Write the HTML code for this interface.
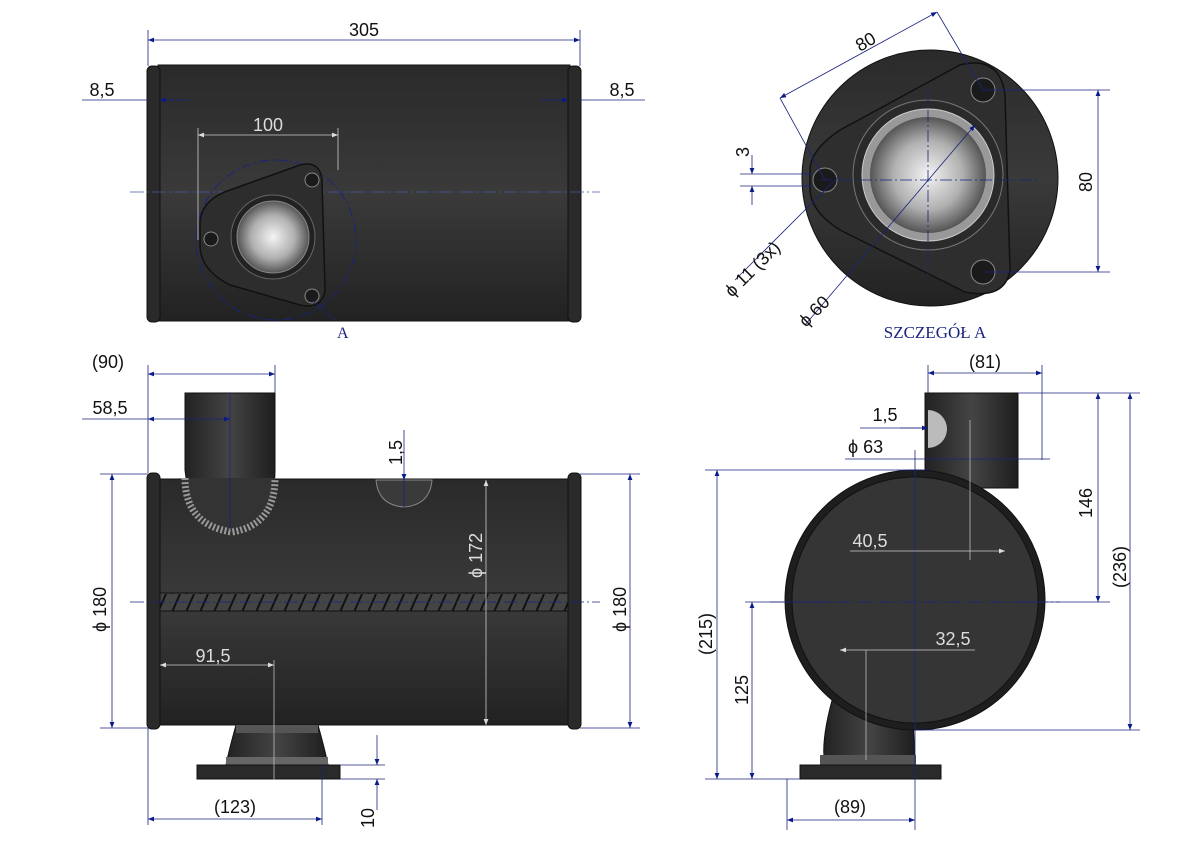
<!DOCTYPE html>
<html><head><meta charset="utf-8"><style>
html,body{margin:0;padding:0;background:#fff}
svg text{font-family:"Liberation Sans",sans-serif}
</style></head><body>
<svg width="1191" height="842" viewBox="0 0 1191 842" xmlns="http://www.w3.org/2000/svg">
<defs>
<linearGradient id="body" x1="0" y1="0" x2="0" y2="1">
<stop offset="0" stop-color="#2a2a2a"/><stop offset="0.5" stop-color="#3a3a3a"/><stop offset="1" stop-color="#222"/></linearGradient>
<radialGradient id="bore" cx="0.5" cy="0.5" r="0.5">
<stop offset="0" stop-color="#f4f4f4"/><stop offset="0.6" stop-color="#b0b0b0"/><stop offset="1" stop-color="#555"/></radialGradient>
<linearGradient id="pipe" x1="0" y1="0" x2="1" y2="0">
<stop offset="0" stop-color="#222"/><stop offset="0.5" stop-color="#444"/><stop offset="1" stop-color="#1e1e1e"/></linearGradient>
<pattern id="weld" width="14" height="18" patternUnits="userSpaceOnUse">
<rect width="14" height="18" fill="#444"/><line x1="12" y1="0" x2="4" y2="18" stroke="#111" stroke-width="2"/></pattern>
<marker id="a" viewBox="0 0 10 10" refX="10" refY="5" markerWidth="12" markerHeight="6" orient="auto-start-reverse" markerUnits="userSpaceOnUse"><path d="M0,1 L10,5 L0,9z" fill="#0a1a8a"/></marker>
<marker id="w" viewBox="0 0 10 10" refX="10" refY="5" markerWidth="12" markerHeight="6" orient="auto-start-reverse" markerUnits="userSpaceOnUse"><path d="M0,1 L10,5 L0,9z" fill="#ddd"/></marker>
</defs>

<!-- VIEW 1 -->
<rect x="158" y="65" width="412" height="256" fill="url(#body)" stroke="#111"/>
<rect x="147" y="66" width="13" height="256" rx="5" fill="#2a2a2a" stroke="#111"/>
<rect x="568" y="66" width="13" height="256" rx="5" fill="#2a2a2a" stroke="#111"/>
<line x1="130" y1="192" x2="600" y2="192" stroke="#4455aa" stroke-width="0.8" stroke-dasharray="14,3,2,3"/>
<circle cx="276" cy="240" r="80" fill="none" stroke="#1a237e" stroke-dasharray="10,3,2,3"/>
<path d="M200,225 Q200,200 230,190 L300,165 Q320,160 322,180 L325,290 Q322,310 300,305 L230,285 Q200,270 200,245z" fill="#2d2d2d" stroke="#111" stroke-width="1.5"/>
<circle cx="273" cy="237" r="42" fill="#222" stroke="#666"/>
<circle cx="273" cy="237" r="36" fill="url(#bore)" stroke="#888"/>
<circle cx="211" cy="239" r="7" fill="#1a1a1a" stroke="#888"/>
<circle cx="312" cy="180" r="7" fill="#1a1a1a" stroke="#888"/>
<circle cx="312" cy="296" r="7" fill="#1a1a1a" stroke="#888"/>
<g stroke="#1a237e" stroke-width="0.8" fill="none">
<line x1="148" y1="30" x2="148" y2="66"/><line x1="580" y1="30" x2="580" y2="66"/>
<line x1="148" y1="40" x2="580" y2="40" marker-start="url(#a)" marker-end="url(#a)"/>
<line x1="82" y1="100" x2="148" y2="100"/><line x1="160" y1="100" x2="190" y2="100" marker-start="url(#a)"/>
<line x1="540" y1="100" x2="568" y2="100" marker-end="url(#a)"/><line x1="580" y1="100" x2="645" y2="100"/>
<line x1="198" y1="135" x2="338" y2="135" stroke="#ccc" marker-start="url(#w)" marker-end="url(#w)"/>
<line x1="198" y1="128" x2="198" y2="240" stroke="#ccc"/><line x1="338" y1="128" x2="338" y2="170" stroke="#ccc"/>
<line x1="312" y1="300" x2="335" y2="320"/>
</g>
<text x="364" y="36" font-size="18" text-anchor="middle" fill="#111">305</text>
<text x="102" y="96" font-size="18" text-anchor="middle" fill="#111">8,5</text>
<text x="622" y="96" font-size="18" text-anchor="middle" fill="#111">8,5</text>
<text x="268" y="131" font-size="18" text-anchor="middle" fill="#ddd">100</text>
<text x="337" y="338" font-size="16" font-family="Liberation Serif" fill="#1a237e" style="font-family:'Liberation Serif',serif">A</text>

<!-- VIEW 2 -->
<circle cx="930" cy="178" r="128" fill="url(#body)" stroke="#111"/>
<path d="M810,170 Q810,150 840,130 L960,65 Q1000,55 1005,95 L1010,270 Q1005,300 965,292 L840,230 Q808,210 810,185z" fill="#2e2e2e" stroke="#111" stroke-width="1.5"/>
<circle cx="928" cy="175" r="75" fill="#2a2a2a" stroke="#777"/>
<circle cx="928" cy="175" r="66" fill="#999" stroke="#ccc"/>
<circle cx="928" cy="175" r="58" fill="url(#bore)"/>
<circle cx="825" cy="180" r="12" fill="#1a1a1a" stroke="#888"/>
<circle cx="983" cy="90" r="12" fill="#1a1a1a" stroke="#888"/>
<circle cx="983" cy="272" r="12" fill="#1a1a1a" stroke="#888"/>
<g stroke="#1a237e" stroke-width="0.8" fill="none">
<line x1="780" y1="98" x2="937" y2="12" marker-start="url(#a)" marker-end="url(#a)"/>
<line x1="937" y1="12" x2="983" y2="90"/><line x1="780" y1="98" x2="825" y2="180"/>
<line x1="983" y1="90" x2="1110" y2="90"/><line x1="983" y1="272" x2="1110" y2="272"/>
<line x1="1098" y1="90" x2="1098" y2="272" marker-start="url(#a)" marker-end="url(#a)"/>
<line x1="740" y1="174" x2="812" y2="174"/><line x1="740" y1="186" x2="812" y2="186"/>
<line x1="752" y1="155" x2="752" y2="174" marker-end="url(#a)"/><line x1="752" y1="205" x2="752" y2="186" marker-end="url(#a)"/>
<line x1="735" y1="280" x2="840" y2="175"/>
<line x1="805" y1="325" x2="975" y2="125" marker-end="url(#a)"/>
<line x1="928" y1="90" x2="928" y2="275" stroke-dasharray="12,3,2,3"/>
<line x1="820" y1="180" x2="1040" y2="180" stroke-dasharray="12,3,2,3"/>
</g>
<text x="860" y="52" font-size="18" fill="#111" transform="rotate(-30 860 52)">80</text>
<text x="1092" y="192" font-size="18" fill="#111" transform="rotate(-90 1092 192)">80</text>
<text x="749" y="157" font-size="18" fill="#111" transform="rotate(-90 749 157)">3</text>
<text x="732" y="298" font-size="18" fill="#111" transform="rotate(-45 732 298)">ϕ 11 (3x)</text>
<text x="806" y="328" font-size="18" fill="#111" transform="rotate(-45 806 328)">ϕ 60</text>
<text x="935" y="338" font-size="17" text-anchor="middle" fill="#1a237e" style="font-family:'Liberation Serif',serif">SZCZEGÓŁ A</text>

<!-- VIEW 3 -->
<path d="M185,393 L275,393 L275,470 Q275,520 232,530 Q190,520 185,470z" fill="url(#pipe)" stroke="#111"/>
<path d="M185,480 Q185,525 232,532 Q275,525 275,480" fill="none" stroke="#888" stroke-width="8" stroke-dasharray="2,2"/>
<rect x="158" y="479" width="412" height="246" fill="url(#body)" stroke="#111"/>
<path d="M185,478 Q185,525 232,532 Q275,525 275,478" fill="#333" stroke="#999" stroke-width="7" stroke-dasharray="2,2"/>
<rect x="147" y="473" width="13" height="256" rx="5" fill="#2a2a2a" stroke="#111"/>
<rect x="568" y="473" width="13" height="256" rx="5" fill="#2a2a2a" stroke="#111"/>
<rect x="160" y="593" width="408" height="18" fill="url(#weld)" stroke="#111"/>
<path d="M376,480 L432,480 Q430,505 404,507 Q378,505 376,480z" fill="#3a3a3a" stroke="#888"/>
<path d="M236,725 L318,725 Q325,750 328,765 L226,765 Q229,750 236,725z" fill="url(#pipe)" stroke="#111"/>
<rect x="236" y="725" width="82" height="8" fill="#555"/>
<rect x="226" y="757" width="102" height="8" fill="#666"/>
<rect x="197" y="765" width="143" height="14" fill="#2a2a2a" stroke="#111"/>
<g stroke="#1a237e" stroke-width="0.8" fill="none">
<line x1="148" y1="365" x2="148" y2="473"/><line x1="275" y1="365" x2="275" y2="393"/>
<line x1="148" y1="374" x2="275" y2="374" marker-start="url(#a)" marker-end="url(#a)"/>
<line x1="82" y1="419" x2="148" y2="419"/><line x1="148" y1="419" x2="230" y2="419" marker-start="url(#a)" marker-end="url(#a)"/>
<line x1="230" y1="393" x2="230" y2="530"/>
<line x1="100" y1="474" x2="148" y2="474"/><line x1="100" y1="728" x2="148" y2="728"/>
<line x1="112" y1="474" x2="112" y2="728" marker-start="url(#a)" marker-end="url(#a)"/>
<line x1="580" y1="474" x2="640" y2="474"/><line x1="580" y1="728" x2="640" y2="728"/>
<line x1="630" y1="474" x2="630" y2="728" marker-start="url(#a)" marker-end="url(#a)"/>
<line x1="404" y1="430" x2="404" y2="480" marker-end="url(#a)"/><line x1="404" y1="510" x2="404" y2="480"/>
<line x1="130" y1="602" x2="600" y2="602" stroke-dasharray="14,3,2,3"/>
<line x1="148" y1="728" x2="148" y2="825"/><line x1="322" y1="765" x2="322" y2="825"/>
<line x1="148" y1="819" x2="322" y2="819" marker-start="url(#a)" marker-end="url(#a)"/>
<line x1="340" y1="765" x2="385" y2="765"/><line x1="340" y1="779" x2="385" y2="779"/>
<line x1="377" y1="735" x2="377" y2="765" marker-end="url(#a)"/><line x1="377" y1="810" x2="377" y2="779" marker-end="url(#a)"/>
<line x1="274" y1="660" x2="274" y2="780" stroke="#bbb"/>
<line x1="160" y1="665" x2="274" y2="665" stroke="#ccc" marker-start="url(#w)" marker-end="url(#w)"/>
<line x1="486" y1="480" x2="486" y2="725" stroke="#ccc" marker-start="url(#w)" marker-end="url(#w)"/>
</g>
<text x="108" y="368" font-size="18" text-anchor="middle" fill="#111">(90)</text>
<text x="110" y="414" font-size="18" text-anchor="middle" fill="#111">58,5</text>
<text x="402" y="465" font-size="18" fill="#111" transform="rotate(-90 402 465)">1,5</text>
<text x="482" y="578" font-size="18" fill="#ddd" transform="rotate(-90 482 578)">ϕ 172</text>
<text x="213" y="662" font-size="18" text-anchor="middle" fill="#ddd">91,5</text>
<text x="106" y="632" font-size="18" fill="#111" transform="rotate(-90 106 632)">ϕ 180</text>
<text x="626" y="632" font-size="18" fill="#111" transform="rotate(-90 626 632)">ϕ 180</text>
<text x="235" y="813" font-size="18" text-anchor="middle" fill="#111">(123)</text>
<text x="374" y="828" font-size="18" fill="#111" transform="rotate(-90 374 828)">10</text>

<!-- VIEW 4 -->
<rect x="925" y="393" width="93" height="95" fill="url(#pipe)" stroke="#111"/>
<path d="M928,410 A14,14 0 0 1 928,448z" fill="#bbb"/>
<path d="M835,690 L912,690 L915,765 L825,765 Q820,740 835,690z" fill="url(#pipe)" stroke="#111"/>
<rect x="820" y="755" width="96" height="10" fill="#555"/>
<rect x="800" y="765" width="141" height="14" fill="#2a2a2a" stroke="#111"/>
<circle cx="915" cy="600" r="130" fill="#1e1e1e" stroke="#111"/>
<circle cx="915" cy="600" r="123" fill="#353535" stroke="#111"/>
<g stroke="#1a237e" stroke-width="0.8" fill="none">
<line x1="928" y1="365" x2="928" y2="393"/><line x1="1042" y1="365" x2="1042" y2="460"/>
<line x1="928" y1="373" x2="1042" y2="373" marker-start="url(#a)" marker-end="url(#a)"/>
<line x1="860" y1="428" x2="928" y2="428"/><line x1="900" y1="428" x2="928" y2="428" marker-end="url(#a)"/>
<line x1="845" y1="459" x2="1050" y2="459"/>
<line x1="970" y1="420" x2="970" y2="560" stroke="#bbb"/>
<line x1="1018" y1="393" x2="1140" y2="393"/>
<line x1="1018" y1="602" x2="1110" y2="602"/>
<line x1="1098" y1="393" x2="1098" y2="602" marker-start="url(#a)" marker-end="url(#a)"/>
<line x1="1130" y1="393" x2="1130" y2="730" marker-start="url(#a)" marker-end="url(#a)"/>
<line x1="915" y1="730" x2="1140" y2="730"/>
<line x1="705" y1="470" x2="930" y2="470"/><line x1="705" y1="779" x2="800" y2="779"/>
<line x1="717" y1="470" x2="717" y2="779" marker-start="url(#a)" marker-end="url(#a)"/>
<line x1="745" y1="602" x2="830" y2="602"/>
<line x1="752" y1="602" x2="752" y2="779" marker-start="url(#a)" marker-end="url(#a)"/>
<line x1="915" y1="450" x2="915" y2="830"/>
<line x1="770" y1="602" x2="1060" y2="602" stroke-dasharray="14,3,2,3"/>
<line x1="787" y1="779" x2="787" y2="830"/>
<line x1="787" y1="820" x2="915" y2="820" marker-start="url(#a)" marker-end="url(#a)"/>
<line x1="915" y1="551" x2="1005" y2="551" stroke="#ccc" marker-end="url(#w)"/>
<line x1="850" y1="551" x2="915" y2="551" stroke="#ccc"/>
<line x1="840" y1="650" x2="915" y2="650" stroke="#ccc" marker-start="url(#w)"/>
<line x1="915" y1="650" x2="975" y2="650" stroke="#ccc"/>
<line x1="866" y1="650" x2="866" y2="760" stroke="#bbb"/>
</g>
<text x="985" y="368" font-size="18" text-anchor="middle" fill="#111">(81)</text>
<text x="885" y="421" font-size="18" text-anchor="middle" fill="#111">1,5</text>
<text x="848" y="453" font-size="18" fill="#111">ϕ  63</text>
<text x="870" y="547" font-size="18" text-anchor="middle" fill="#ddd">40,5</text>
<text x="953" y="645" font-size="18" text-anchor="middle" fill="#ddd">32,5</text>
<text x="1092" y="518" font-size="18" fill="#111" transform="rotate(-90 1092 518)">146</text>
<text x="1126" y="588" font-size="18" fill="#111" transform="rotate(-90 1126 588)">(236)</text>
<text x="712" y="655" font-size="18" fill="#111" transform="rotate(-90 712 655)">(215)</text>
<text x="748" y="705" font-size="18" fill="#111" transform="rotate(-90 748 705)">125</text>
<text x="850" y="813" font-size="18" text-anchor="middle" fill="#111">(89)</text>
</svg>
</body></html>
